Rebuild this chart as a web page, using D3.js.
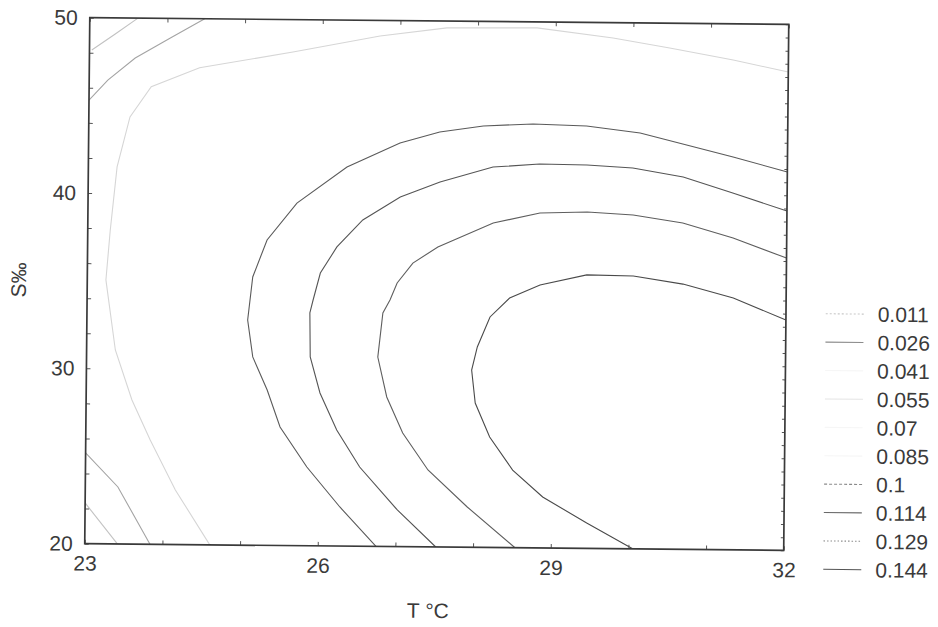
<!DOCTYPE html>
<html>
<head>
<meta charset="utf-8">
<script src="https://cdn.jsdelivr.net/npm/d3@7"></script>
<style>
  body { margin: 0; background: #fff; }
  svg { display: block; font-family: "Liberation Sans", Arial, sans-serif; }
</style>
</head>
<body>
<svg id="chart" width="938" height="627"></svg>
<script>
// contour levels, legend order
const levels = [0.011, 0.026, 0.041, 0.055, 0.07, 0.085, 0.1, 0.114, 0.129, 0.144];
const levelLabels = ["0.011", "0.026", "0.041", "0.055", "0.07", "0.085", "0.1", "0.114", "0.129", "0.144"];
const xTicks = [23, 26, 29, 32];
const yTicks = [20, 30, 40, 50];

// contour lines, points are [T, S]
const c011a = [[23.62, 50], [23.33, 49.08], [23.03, 48.16]];
const c011b = [[23.0, 22.32], [23.42, 20]];
const c026a = [[24.48, 50], [24.04, 48.88], [23.59, 47.72], [23.24, 46.45], [23.0, 45.3]];
const c026b = [[23.0, 25.17], [23.42, 23.25], [23.84, 20]];
const c055 = [[24.61, 20], [24.16, 23.11], [23.83, 25.95], [23.59, 28.22], [23.37, 31.06], [23.24, 35.05],
  [23.29, 37.9], [23.37, 41.5], [23.53, 44.36], [23.8, 46.1], [24.42, 47.2], [25.62, 48.15],
  [26.74, 49.11], [27.6, 49.61], [28.76, 49.66], [29.74, 49.13], [30.47, 48.59], [31.29, 47.94], [32, 47.28]];
const c100 = [[32, 41.58], [31.3, 42.41], [30.1, 43.72], [29.41, 44.09], [28.72, 44.18], [28.08, 44.04],
  [27.52, 43.67], [27.01, 43.02], [26.33, 41.62], [25.69, 39.54], [25.31, 37.42], [25.13, 35.3],
  [25.07, 32.84], [25.14, 30.74], [25.33, 28.86], [25.5, 26.76], [25.85, 24.49], [26.28, 22.23], [26.75, 20]];
const c114 = [[32, 39.35], [31.3, 40.35], [30.66, 41.24], [30.01, 41.72], [29.42, 41.87], [28.81, 41.9],
  [28.21, 41.7], [27.53, 40.82], [27.02, 39.94], [26.54, 38.61], [26.21, 37.06], [26.0, 35.56],
  [25.91, 34.02], [25.87, 33.28], [25.88, 30.77], [26.01, 28.72], [26.23, 26.62], [26.53, 24.52],
  [27.02, 22.09], [27.52, 20]];
const c129 = [[32, 36.67], [31.31, 37.79], [30.66, 38.61], [30.02, 39.04], [29.43, 39.19], [28.82, 39.11],
  [28.22, 38.51], [27.51, 37.11], [27.19, 36.18], [26.99, 35.04], [26.9, 34.06], [26.81, 33.32],
  [26.75, 30.8], [26.87, 28.53], [27.08, 26.48], [27.41, 24.39], [27.92, 22.3], [28.54, 20]];
const c144 = [[32, 33.14], [31.32, 34.36], [30.67, 35.13], [30.03, 35.56], [29.43, 35.6], [28.83, 35.0],
  [28.44, 34.24], [28.19, 33.15], [28.03, 31.43], [27.96, 30.11], [28.01, 28.23], [28.2, 26.3],
  [28.5, 24.43], [28.89, 22.91], [29.46, 21.45], [30.06, 20]];

const contours = [
  { level: 0.011, pts: c011a }, { level: 0.011, pts: c011b },
  { level: 0.026, pts: c026a }, { level: 0.026, pts: c026b },
  { level: 0.055, pts: c055 },
  { level: 0.1, pts: c100 }, { level: 0.114, pts: c114 },
  { level: 0.129, pts: c129 }, { level: 0.144, pts: c144 },
];

// line look per level (plot / legend)
const styles = {
  0.011: { stroke: "#c2c2c2", legendStroke: "#c8c8c8", legendDash: "2,2" },
  0.026: { stroke: "#a4a4a4", legendStroke: "#8c8c8c" },
  0.041: { stroke: "#f6f6f6" },
  0.055: { stroke: "#d6d6d6", legendStroke: "#e4e4e4" },
  0.07: { stroke: "#f6f6f6" },
  0.085: { stroke: "#f6f6f6" },
  0.1: { stroke: "#5a5a5a", legendStroke: "#8a8a8a", legendDash: "3,2" },
  0.114: { stroke: "#555", legendStroke: "#6a6a6a" },
  0.129: { stroke: "#5e5e5e", legendStroke: "#8a8a8a", legendDash: "1.5,2" },
  0.144: { stroke: "#4a4a4a", legendStroke: "#555" },
};

const W = 938, H = 627;
const plotLeft = 87.25, plotRight = 786.25, plotTop = 21, plotBottom = 547;
const textColor = "#3a3a3a";

const svg = d3.select("#chart");
svg.append("rect").attr("width", W).attr("height", H).attr("fill", "#fff");

// the scanned figure is a little tilted
const g = svg.append("g")
  .attr("transform", `rotate(0.55, ${(plotLeft + plotRight) / 2}, ${(plotTop + plotBottom) / 2})`);

const x = d3.scaleLinear().domain([23, 32]).range([plotLeft, plotRight]);
const y = d3.scaleLinear().domain([20, 50]).range([plotBottom, plotTop]);

g.append("clipPath").attr("id", "plotClip")
  .append("rect")
  .attr("x", plotLeft).attr("y", plotTop)
  .attr("width", plotRight - plotLeft).attr("height", plotBottom - plotTop);

const line = d3.line()
  .x(d => x(d[0]))
  .y(d => y(d[1]));

g.append("g")
  .attr("clip-path", "url(#plotClip)")
  .selectAll("path")
  .data(contours)
  .enter().append("path")
  .attr("d", d => line(d.pts))
  .attr("fill", "none")
  .attr("stroke", d => styles[d.level].stroke)
  .attr("stroke-width", 1.1)
  .attr("stroke-dasharray", d => styles[d.level].dash || null);

// inward minor ticks on all four sides
function minorTicks(axis) {
  return sel => {
    sel.call(axis);
    sel.select(".domain").remove();
    sel.selectAll("line").attr("stroke", "#555").attr("stroke-width", 1);
  };
}
g.append("g").attr("transform", `translate(0,${plotBottom})`)
  .call(minorTicks(d3.axisBottom(x).tickValues(d3.range(23, 32.01, 1)).tickSize(-4).tickFormat("")));
g.append("g").attr("transform", `translate(0,${plotTop})`)
  .call(minorTicks(d3.axisTop(x).tickValues(d3.range(23, 32.01, 1)).tickSize(-4).tickFormat("")));
g.append("g").attr("transform", `translate(${plotLeft},0)`)
  .call(minorTicks(d3.axisLeft(y).tickValues(d3.range(20, 50.01, 2)).tickSize(-4).tickFormat("")));
g.append("g").attr("transform", `translate(${plotRight},0)`)
  .call(minorTicks(d3.axisRight(y).tickValues(d3.range(20, 50.01, 0.75)).tickSize(-3).tickFormat("")));

// labelled axes
const xAxis = g.append("g").attr("transform", `translate(0,${plotBottom})`)
  .call(d3.axisBottom(x).tickValues(xTicks).tickSize(0).tickPadding(12).tickFormat(d3.format("d")));
const yAxis = g.append("g").attr("transform", `translate(${plotLeft},0)`)
  .call(d3.axisLeft(y).tickValues(yTicks).tickSize(0).tickPadding(12).tickFormat(d3.format("d")));
[xAxis, yAxis].forEach(a => {
  a.select(".domain").remove();
  a.selectAll("text")
    .attr("font-family", "Liberation Sans, Arial, sans-serif")
    .attr("font-size", 21)
    .attr("fill", textColor);
});

// frame
g.append("rect")
  .attr("x", plotLeft).attr("y", plotTop)
  .attr("width", plotRight - plotLeft).attr("height", plotBottom - plotTop)
  .attr("fill", "none")
  .attr("stroke", "#3a3a3a")
  .attr("stroke-width", 1.7);

// axis titles
g.append("text")
  .attr("x", 431).attr("y", 618)
  .attr("text-anchor", "middle")
  .attr("font-size", 21)
  .attr("fill", textColor)
  .text("T °C");

g.append("text")
  .attr("transform", `translate(26,${(plotTop + plotBottom) / 2}) rotate(-90)`)
  .attr("text-anchor", "middle")
  .attr("font-size", 21)
  .attr("fill", textColor)
  .text("S‰");

// legend
const legend = g.append("g").attr("transform", "translate(826,310)");
const rows = legend.selectAll(".row")
  .data(levels)
  .enter().append("g")
  .attr("class", "row")
  .attr("transform", (d, i) => `translate(0,${i * 28.4})`);

rows.append("line")
  .attr("x1", 0).attr("x2", 38)
  .attr("stroke", d => styles[d].legendStroke || styles[d].stroke)
  .attr("stroke-width", 1.1)
  .attr("stroke-dasharray", d => styles[d].legendDash || null);

rows.append("text")
  .attr("x", 52)
  .attr("dy", "0.36em")
  .attr("font-size", 21)
  .attr("fill", textColor)
  .text((d, i) => levelLabels[i]);
</script>
</body>
</html>
